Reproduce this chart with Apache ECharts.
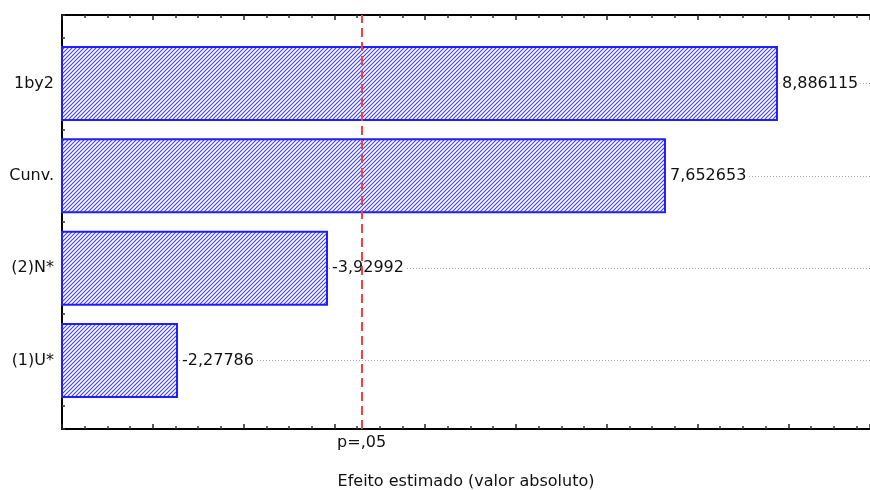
<!DOCTYPE html>
<html>
<head>
<meta charset="utf-8">
<script src="https://cdn.jsdelivr.net/npm/echarts@6/dist/echarts.min.js"></script>
<style>
  html, body { margin: 0; padding: 0; background: #fff; }
  #chart { width: 870px; height: 490px; }
</style>
</head>
<body>
<div id="chart"></div>
<script>
// Pareto chart of standardized effects
const categories = ['1by2', 'Cunv.', '(2)N*', '(1)U*'];
const effects = [8.886115, 7.652653, -3.92992, -2.27786];
const pCritical = 4.303;
const pLabel = 'p=,05';
const xTitle = 'Efeito estimado (valor absoluto)';
const xMin = 1;
const xMax = 9.9;
const xStep = 1;

const FONT = 'DejaVu Sans';
const TEXT = '#111';

// diagonal hatch fill for the bars
function hatchCanvas() {
  const c = document.createElement('canvas');
  c.width = 4; c.height = 4;
  const g = c.getContext('2d');
  g.fillStyle = '#fff';
  g.fillRect(0, 0, 4, 4);
  g.strokeStyle = '#4040ff';
  g.lineWidth = 1.1;
  g.beginPath();
  g.moveTo(-1, 5); g.lineTo(5, -1);
  g.moveTo(-1, 1); g.lineTo(1, -1);
  g.moveTo(3, 5); g.lineTo(5, 3);
  g.stroke();
  return c;
}

const fmt = v => String(v).replace('.', ',');

const chart = echarts.init(document.getElementById('chart'), null, { renderer: 'canvas' });

const frameX = {
  type: 'value', gridIndex: 0, min: xMin, max: xMax, interval: xStep,
  axisLine: { show: true, onZero: false, lineStyle: { color: '#000', width: 2 } },
  axisTick: { show: true, inside: true, length: 5, lineStyle: { color: '#222', width: 1.5 } },
  minorTick: { show: true, splitNumber: 4, length: 3, lineStyle: { color: '#333', width: 1.5 } },
  axisLabel: { show: false },
  splitLine: { show: false },
  minorSplitLine: { show: false }
};

chart.setOption({
  animation: false,
  backgroundColor: '#fff',
  grid: [
    { left: 62, right: 0, top: 15, bottom: 61, outerBoundsMode: 'none', containLabel: false },
    { left: 62, right: 0, top: 37.3, bottom: 83.3, outerBoundsMode: 'none', containLabel: false }
  ],
  xAxis: [
    Object.assign({}, frameX, {
      position: 'bottom',
      name: xTitle, nameLocation: 'middle', nameGap: 45,
      nameTextStyle: { fontFamily: FONT, fontSize: 16, color: TEXT }
    }),
    Object.assign({}, frameX, { position: 'top' }),
    {
      type: 'value', gridIndex: 1, min: xMin, max: xMax, interval: xStep,
      show: false
    }
  ],
  yAxis: [
    {
      type: 'value', gridIndex: 0, min: 0.25, max: 4.75, interval: 0.25,
      axisLine: { show: true, lineStyle: { color: '#000', width: 2 } },
      axisTick: { show: true, inside: true, length: 3, lineStyle: { color: '#333', width: 1.5 } },
      axisLabel: { show: false },
      splitLine: { show: false }
    },
    {
      type: 'category', gridIndex: 1, data: categories, inverse: true,
      axisLine: { show: false },
      axisTick: { show: true, inside: true, alignWithLabel: true, length: 5, lineStyle: { color: '#000', width: 2 } },
      axisLabel: { margin: 8, fontFamily: FONT, fontSize: 16, color: TEXT },
      splitLine: { show: false }
    }
  ],
  series: [
    {
      type: 'bar',
      xAxisIndex: 2, yAxisIndex: 1,
      z: 2,
      barWidth: 75,
      data: effects.map(v => Math.abs(v)),
      itemStyle: {
        color: { image: hatchCanvas(), repeat: 'repeat' },
        borderColor: '#1e1eff',
        borderWidth: 2
      },
      label: {
        show: true, position: 'right', distance: 2,
        formatter: p => fmt(effects[p.dataIndex]),
        fontFamily: FONT, fontSize: 16, color: TEXT,
        backgroundColor: '#fff', padding: [1, 2]
      },
      markLine: {
        silent: true, z: 1, symbol: 'none',
        label: { show: false },
        lineStyle: { color: '#a8a8a8', type: [1, 2], width: 1 },
        data: categories.map(c => ({ yAxis: c }))
      }
    },
    {
      type: 'line',
      xAxisIndex: 0, yAxisIndex: 0,
      z: 10,
      data: [],
      markLine: {
        silent: true, z: 10, symbol: 'none',
        lineStyle: { color: '#ff3b3b', type: [9, 5], width: 2 },
        label: {
          show: true, position: 'start', distance: 6,
          formatter: pLabel,
          fontFamily: FONT, fontSize: 16, color: TEXT
        },
        data: [{ xAxis: pCritical }]
      }
    }
  ]
});
</script>
</body>
</html>
